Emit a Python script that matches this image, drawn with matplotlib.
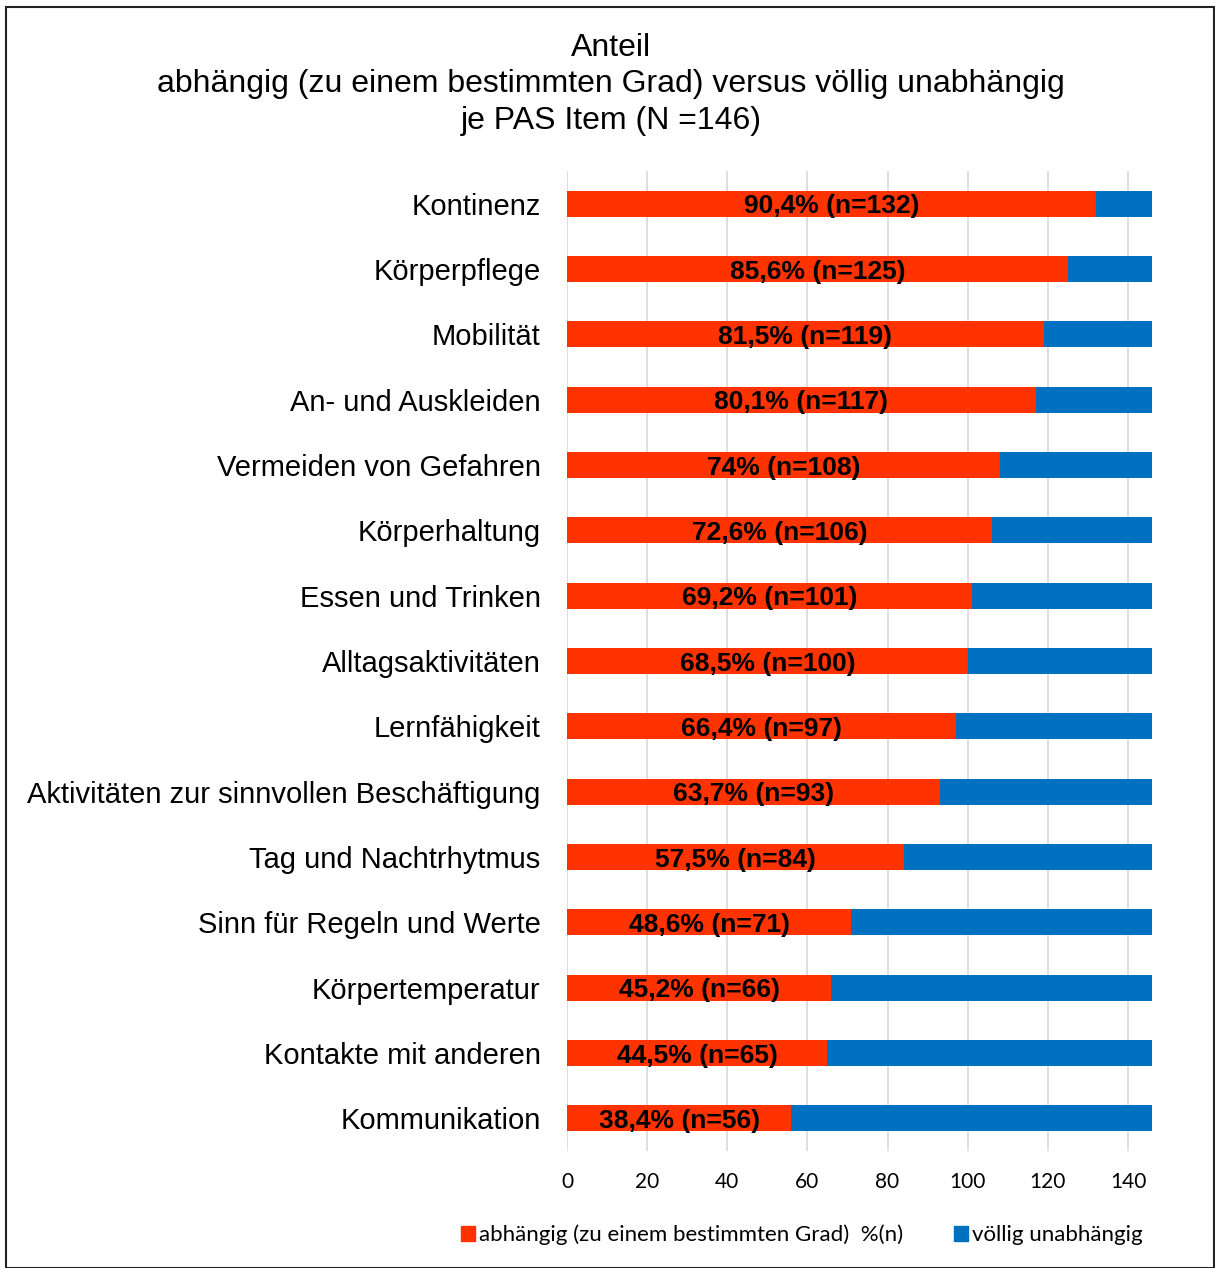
import matplotlib
matplotlib.use("Agg")
import matplotlib.pyplot as plt
from matplotlib.patches import Patch, Rectangle
from matplotlib import font_manager

categories = ["Kontinenz", "Körperpflege", "Mobilität", "An- und Auskleiden",
              "Vermeiden von Gefahren", "Körperhaltung", "Essen und Trinken",
              "Alltagsaktivitäten", "Lernfähigkeit",
              "Aktivitäten zur sinnvollen Beschäftigung", "Tag und Nachtrhytmus",
              "Sinn für Regeln und Werte", "Körpertemperatur",
              "Kontakte mit anderen", "Kommunikation"]
abhaengig = [132, 125, 119, 117, 108, 106, 101, 100, 97, 93, 84, 71, 66, 65, 56]
total_n = 146
unabhaengig = [total_n - v for v in abhaengig]
bar_labels = ["90,4% (n=132)", "85,6% (n=125)", "81,5% (n=119)", "80,1% (n=117)",
              "74% (n=108)", "72,6% (n=106)", "69,2% (n=101)", "68,5% (n=100)",
              "66,4% (n=97)", "63,7% (n=93)", "57,5% (n=84)", "48,6% (n=71)",
              "45,2% (n=66)", "44,5% (n=65)", "38,4% (n=56)"]
xticks = [0, 20, 40, 60, 80, 100, 120, 140]
legend_labels = ["abhängig (zu einem bestimmten Grad)  %(n)", "völlig unabhängig"]
title_lines = ["Anteil",
               "abhängig (zu einem bestimmten Grad) versus völlig unabhängig",
               "je PAS Item (N =146)"]

RED = "#FF3300"
BLUE = "#0070C0"

avail = {f.name for f in font_manager.fontManager.ttflist}
main_font = "Liberation Sans" if "Liberation Sans" in avail else "DejaVu Sans"
narrow_font = "Liberation Sans Narrow" if "Liberation Sans Narrow" in avail else main_font
tick_font = "Lato" if "Lato" in avail else main_font

fig = plt.figure(figsize=(12.15, 12.68), dpi=100)
ax = fig.add_axes([567/1215, 1-1151/1268, (1152-567)/1215, (1151-171)/1268])

n = len(categories)
ypos = list(range(n))[::-1]
bh = 0.4
ax.barh(ypos, abhaengig, height=bh, color=RED, zorder=3)
ax.barh(ypos, unabhaengig, left=abhaengig, height=bh, color=BLUE, zorder=3)

for y, v, lab in zip(ypos, abhaengig, bar_labels):
    ax.text(v/2, y - 0.04, lab, ha="center", va="center", fontsize=19,
            fontweight="bold", family=narrow_font, color="black", zorder=4)

ax.set_xlim(0, total_n)
ax.set_ylim(-0.5, n - 0.5)
ax.set_xticks(xticks)
ax.set_xticklabels([str(t) for t in xticks], family=tick_font, fontsize=15)
ax.set_yticks(ypos)
ax.set_yticklabels(categories, family=main_font, fontsize=21)
ax.tick_params(axis="both", length=0)
ax.tick_params(axis="x", pad=15)
ax.tick_params(axis="y", pad=19)
ax.grid(axis="x", color="#D9D9D9", linewidth=1.2, zorder=0)
for s in ax.spines.values():
    s.set_visible(False)

for i, (line, yp) in enumerate(zip(title_lines, [48, 84, 121])):
    fig.text(611/1215, 1 - yp/1268, line, ha="center", va="center",
             fontsize=23, family=main_font)

handles = [Patch(color=RED), Patch(color=BLUE)]
leg = fig.legend(handles, legend_labels, loc="center", ncol=2,
                 bbox_to_anchor=(802/1215, 1 - 1235/1268), frameon=False,
                 prop={"family": tick_font, "size": 16},
                 handlelength=0.6, handleheight=0.6, handletextpad=0.2,
                 columnspacing=2.3)

fig.patches.append(Rectangle((6/1215, 1 - 1268/1268), (1214-6)/1215, (1268-7)/1268,
                             transform=fig.transFigure, fill=False,
                             edgecolor="#222222", linewidth=1.5))

fig.savefig("out.png", dpi=100)
